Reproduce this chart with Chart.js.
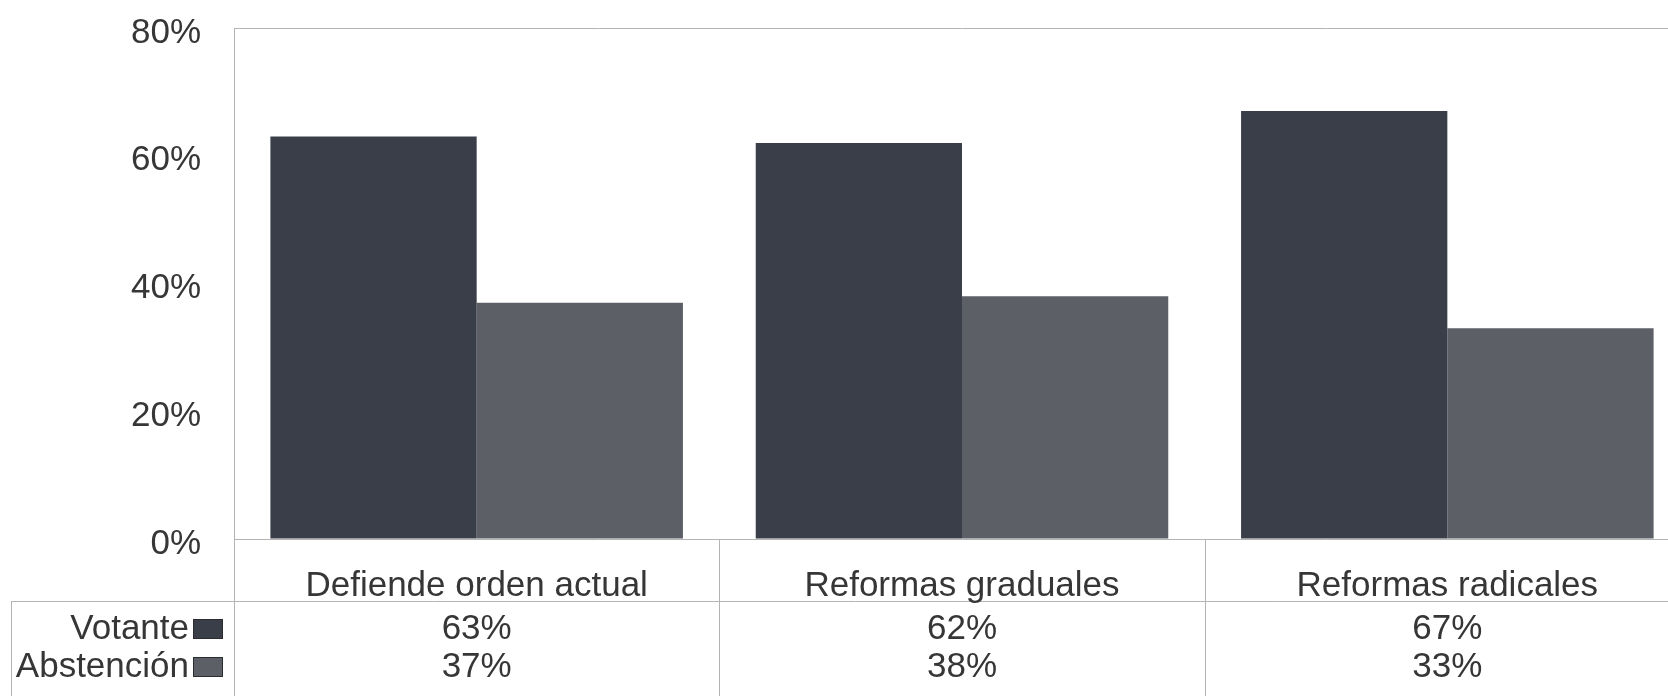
<!DOCTYPE html>
<html>
<head>
<meta charset="utf-8">
<script src="https://cdn.jsdelivr.net/npm/chart.js@4.4.1/dist/chart.umd.min.js"></script>
<style>
  html, body { margin: 0; padding: 0; background: #ffffff; overflow: hidden; }
  #wrap { width: 1700px; height: 696px; }
</style>
</head>
<body>
<div id="wrap"><canvas id="c" width="1700" height="696"></canvas></div>
<script>
// ---- data ----
const categories = ["Defiende orden actual", "Reformas graduales", "Reformas radicales"];
const seriesNames = ["Votante", "Abstención"];
const votante = [63, 62, 67];
const abstencion = [37, 38, 33];
const yTickValues = [0, 20, 40, 60, 80];
const yTickLabels = ["0%", "20%", "40%", "60%", "80%"];

// ---- styles ----
const FONT = "'Liberation Sans', Arial, sans-serif";
const FSIZE = 35;
const TEXT = "#363636";
const LINE = "#b4b4b4";
const COLORS = ["#3a3e48", "#5c5f66"];

const tablePlugin = {
  id: "dataTable",
  afterDraw(chart) {
    const ctx = chart.ctx;
    const ca = chart.chartArea;
    const xs = chart.scales.x;
    const ys = chart.scales.y;
    const H = chart.height;
    const W = chart.width;
    const tableTop = 601;
    const tableLeft = 11;
    const catLabelY = 586;
    const rowCenters = [628, 666];
    const seriesData = [votante, abstencion];

    ctx.save();
    ctx.strokeStyle = LINE;
    ctx.lineWidth = 1;
    ctx.beginPath();
    // extend left border of plot down through table
    ctx.moveTo(Math.round(ca.left) + 0.5, ca.bottom);
    ctx.lineTo(Math.round(ca.left) + 0.5, H);
    // category dividers
    for (let i = 1; i <= categories.length; i++) {
      const xp = i < categories.length
        ? (xs.getPixelForValue(i - 1) + xs.getPixelForValue(i)) / 2
        : ca.right;
      ctx.moveTo(Math.round(xp) + 0.5, ca.bottom);
      ctx.lineTo(Math.round(xp) + 0.5, H);
    }
    // table top line
    ctx.moveTo(tableLeft, tableTop + 0.5);
    ctx.lineTo(W, tableTop + 0.5);
    // table left border
    ctx.moveTo(tableLeft + 0.5, tableTop);
    ctx.lineTo(tableLeft + 0.5, H);
    ctx.stroke();

    ctx.font = FSIZE + "px " + FONT;
    ctx.textBaseline = "middle";
    ctx.fillStyle = TEXT;

    // y tick labels (sit slightly below their tick, as in the reference)
    ctx.textAlign = "right";
    yTickValues.forEach((v, i) => {
      ctx.fillText(yTickLabels[i], ca.left - 33, ys.getPixelForValue(v) + 5);
    });

    // category labels
    ctx.textAlign = "center";
    categories.forEach((c, i) => {
      ctx.fillText(c, xs.getPixelForValue(i), catLabelY);
    });

    // row headers with legend keys, and values
    seriesNames.forEach((name, r) => {
      ctx.textAlign = "right";
      ctx.fillStyle = TEXT;
      ctx.fillText(name, 189, rowCenters[r] + 1);
      ctx.fillStyle = COLORS[r];
      ctx.fillRect(193, rowCenters[r] - 9, 30, 20);
      ctx.strokeStyle = "#2a2c30";
      ctx.strokeRect(193.5, rowCenters[r] - 8.5, 29, 19);
      ctx.textAlign = "center";
      ctx.fillStyle = TEXT;
      seriesData[r].forEach((v, i) => {
        ctx.fillText(v + "%", xs.getPixelForValue(i), rowCenters[r] + 1);
      });
    });
    ctx.restore();
  }
};

new Chart(document.getElementById("c"), {
  type: "bar",
  data: {
    labels: categories,
    datasets: [
      { label: seriesNames[0], data: votante, backgroundColor: COLORS[0], borderWidth: 0 },
      { label: seriesNames[1], data: abstencion, backgroundColor: COLORS[1], borderWidth: 0 }
    ]
  },
  options: {
    responsive: false,
    animation: false,
    events: [],
    layout: { padding: { top: 28, left: 0, right: 10, bottom: 0 } },
    datasets: { bar: { categoryPercentage: 0.85, barPercentage: 1.0 } },
    plugins: { legend: { display: false }, tooltip: { enabled: false }, title: { display: false } },
    scales: {
      x: {
        grid: { display: false },
        border: { display: false },
        ticks: { display: false },
        afterFit(scale) { scale.height = 157; scale.paddingLeft = 0; scale.paddingRight = 0; }
      },
      y: {
        min: 0,
        max: 80,
        afterBuildTicks(scale) { scale.ticks = yTickValues.map(v => ({ value: v })); },
        grid: {
          drawTicks: false,
          color: (c) => (c.tick && (c.tick.value === 80 || c.tick.value === 0)) ? LINE : "rgba(0,0,0,0)",
          lineWidth: 1
        },
        border: { display: true, color: LINE, width: 1 },
        ticks: { display: false },
        afterFit(scale) { scale.width = 234; scale.paddingTop = 0; scale.paddingBottom = 0; }
      }
    }
  },
  plugins: [tablePlugin]
});
</script>
</body>
</html>
